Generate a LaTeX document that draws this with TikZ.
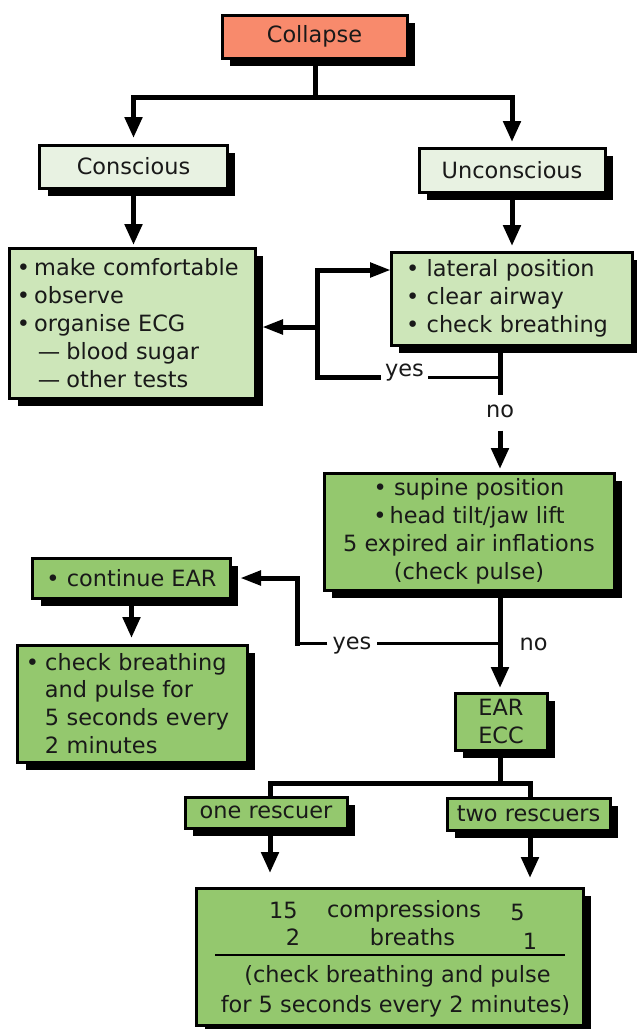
\documentclass[tikz,border=0pt]{standalone}
\usepackage{fontspec}
\setmainfont{DejaVu Sans}
\usetikzlibrary{arrows.meta,shadows}
\definecolor{salmonfill}{RGB}{248,138,108}
\definecolor{palegreen}{RGB}{232,242,226}
\definecolor{lightgreen}{RGB}{205,230,185}
\definecolor{midgreen}{RGB}{148,200,110}
\definecolor{inkcol}{RGB}{25,25,25}
\pgfdeclarelayer{bg}
\pgfsetlayers{bg,main}
\begin{document}
\begin{tikzpicture}[x=1bp,y=-1bp,
  every node/.style={font=\fontsize{22.5}{28}\selectfont, text=inkcol},
  box/.style={draw=black, line width=3bp, inner sep=0pt, outer sep=0pt,
    drop shadow={shadow xshift=8bp, shadow yshift=-8bp, opacity=1, fill=black}},
  conn/.style={draw=black, line width=5bp},
  thinconn/.style={draw=black, line width=3bp},
  downarrow/.style={-{Triangle[length=21bp,width=17bp]}},
  sidearrow/.style={-{Triangle[length=21bp,width=14bp]}},
]
\useasboundingbox (0,0) rectangle (637,1029);

% boxes
\node[box, fill=salmonfill, minimum width=185bp, minimum height=43bp] (collapse) at (314.5,36.5) {Collapse};
\node[box, fill=palegreen, minimum width=187bp, minimum height=43bp] (conscious) at (133.5,166.5) {Conscious};
\node[box, fill=palegreen, minimum width=186bp, minimum height=44bp] (unconscious) at (512,170) {Unconscious};
\node[box, fill=lightgreen, minimum height=150bp, text width=231bp, inner xsep=7bp, align=left] (comfort) at (132.5,323)
  {•\hspace{4bp}make comfortable\\•\hspace{4bp}observe\\•\hspace{4bp}organise ECG\\\hspace*{21bp}—\hspace{6bp}blood sugar\\\hspace*{21bp}—\hspace{6bp}other tests};
\node[box, fill=lightgreen, minimum height=93bp, text width=211bp, inner xsep=15bp, align=left] (lateral) at (511.5,298.5)
  {• lateral position\\• clear airway\\• check breathing};
\node[box, fill=midgreen, minimum width=290bp, minimum height=117bp, align=center] (supine) at (469,531.5)
  {• supine position\\•\hspace{3bp}head tilt/jaw lift\\5 expired air inflations\\(check pulse)};
\node[box, fill=midgreen, minimum width=197bp, minimum height=40bp] (contear) at (131.5,578) {• continue EAR};
\node[box, fill=midgreen, minimum height=117bp, text width=213bp, inner xsep=8bp, align=left] (checkbox) at (132.5,703.5)
  {•\hspace{6bp}check breathing\\\hspace*{19bp}and pulse for\\\hspace*{19bp}5 seconds every\\\hspace*{19bp}2 minutes};
\node[box, fill=midgreen, minimum width=92bp, minimum height=57bp, align=center] (earecc) at (501,721.5) {EAR\\ECC};
\node[box, fill=midgreen, minimum width=162bp, minimum height=31bp] (one) at (266,812.5) {one rescuer};
\node[box, fill=midgreen, minimum width=163bp, minimum height=32bp] (two) at (528.5,814) {two rescuers};
\node[box, fill=midgreen, minimum width=386bp, minimum height=137bp] (cpr) at (390,956.5) {};

% texts inside the CPR box
\node[anchor=base] (n15) at (283.5,918) {15};
\node[anchor=base] (ncomp) at (404,917) {compressions};
\node[anchor=base] (n5) at (517.5,920) {5};
\node[anchor=base] (n2) at (293,945) {2};
\node[anchor=base] (nbr) at (412.5,945) {breaths};
\node[anchor=base] (n1) at (530,949) {1};
\draw[line width=2bp] (215,955) -- (565,955);
\node[anchor=base] (nchk1) at (397.5,982) {(check breathing and pulse};
\node[anchor=base] (nchk2) at (395.5,1012) {for 5 seconds every 2 minutes)};

% labels
\node[inner xsep=4bp, inner ysep=0pt] (yes1) at (404.5,373) {yes};
\node[inner sep=0pt] (no1) at (500,411) {no};
\node[inner xsep=5bp, inner ysep=0pt] (yes2) at (352,646) {yes};
\node[inner sep=0pt] (no2) at (533.5,644.5) {no};

\coordinate (j0) at (315,97);
\coordinate (j1) at (500,377);
\coordinate (lp1) at (317,377);
\coordinate (lp2) at (317,270);
\coordinate (lp3) at (317,327);
\coordinate (j2) at (500,643);
\coordinate (lp4) at (297,643);
\coordinate (lp5) at (297,578);
\coordinate (j3) at (500,783);
\coordinate (r1) at (270,783);
\coordinate (r2) at (530,783);

\begin{pgfonlayer}{bg}
\draw[conn] (j0 |- collapse.south) -- (j0);
\draw[conn, downarrow, shorten >=7bp] (j0) -| (conscious.north);
\draw[conn, downarrow, shorten >=6bp] (j0) -| (unconscious.north);
\draw[conn, downarrow, shorten >=3bp] (conscious.south) -- (conscious.south |- comfort.north);
\draw[conn, downarrow, shorten >=6bp] (unconscious.south) -- (unconscious.south |- lateral.north);

\draw[conn] (j1 |- lateral.south) -- (j1);
\draw[thinconn] (j1) -- (j1 -| yes1.east);
\draw[conn, sidearrow] (j1 -| yes1.west) -- (lp1) -- (lp2) -- (lp2 -| lateral.west);
\draw[conn, sidearrow, shorten >=7bp] (lp3) -- (lp3 -| comfort.east);
\draw[conn, shorten >=9bp] (j1) -- (no1.north);
\draw[conn, downarrow, shorten <=13bp, shorten >=4bp] (no1.south) -- (no1.south |- supine.north);

\draw[conn, downarrow, shorten >=5bp] (j2 |- supine.south) -- (j2 |- earecc.north);
\draw[thinconn] (j2) -- (j2 -| yes2.east);
\draw[thinconn] (j2 -| yes2.west) -- (lp4);
\draw[conn, sidearrow, line cap=rect, shorten >=10bp] (lp4) -- (lp5) -- (lp5 -| contear.east);
\draw[conn, downarrow, shorten >=7bp] (contear.south) -- (contear.south |- checkbox.north);

\draw[conn] (j3 |- earecc.south) -- (j3);
\draw[conn] (r1 |- one.north) -- (r1) -- (r2) -- (r2 |- two.north);
\draw[conn, downarrow, shorten >=15bp] (r1 |- one.south) -- (r1 |- cpr.north);
\draw[conn, downarrow, shorten >=10bp] (r2 |- two.south) -- (r2 |- cpr.north);
\end{pgfonlayer}
\end{tikzpicture}
\end{document}
